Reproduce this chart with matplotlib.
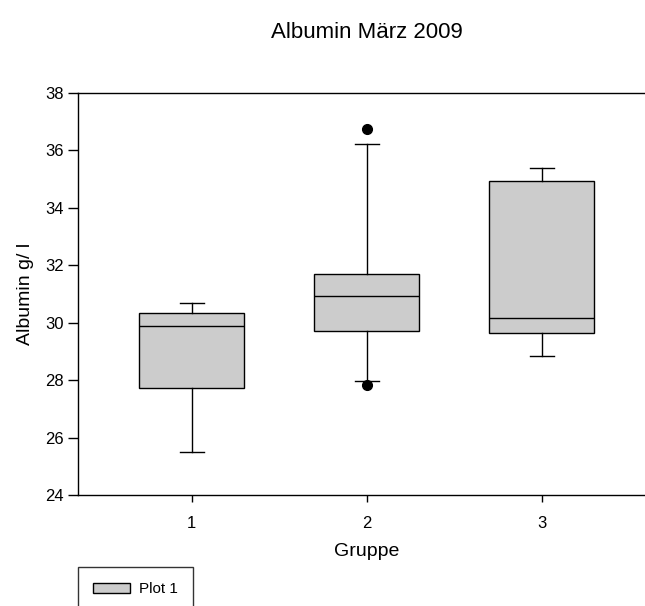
import matplotlib
matplotlib.use("Agg")
import matplotlib.pyplot as plt
from matplotlib.patches import Patch

plt.rcParams['font.family'] = ['Liberation Sans', 'DejaVu Sans']

# values
groups = [1, 2, 3]
tick_labels = ['1', '2', '3']
whisker_low = [25.5, 27.97, 28.83]
q1 = [27.73, 29.71, 29.64]
median = [29.88, 30.93, 30.16]
q3 = [30.34, 31.70, 34.95]
whisker_high = [30.7, 36.22, 35.39]
outliers = [[], [36.73, 27.83], []]

stats = []
for i in range(len(groups)):
    stats.append({'whislo': whisker_low[i], 'q1': q1[i], 'med': median[i],
                  'q3': q3[i], 'whishi': whisker_high[i], 'fliers': outliers[i]})

fig = plt.figure(figsize=(6.45, 6.06), dpi=100)
ax = fig.add_axes([78 / 645, 111 / 606, 1 - 78 / 645, 402 / 606])

ax.bxp(stats, positions=groups, widths=0.6, capwidths=0.14, patch_artist=True,
       boxprops=dict(facecolor='#cccccc', edgecolor='black', linewidth=1),
       medianprops=dict(color='black', linewidth=1),
       whiskerprops=dict(color='black', linewidth=1),
       capprops=dict(color='black', linewidth=1),
       flierprops=dict(marker='o', markerfacecolor='black', markeredgecolor='black',
                       markersize=7))

ax.set_xlim(0.35, 3.59)
ax.set_ylim(24, 38)
ax.set_yticks(range(24, 39, 2))
ax.set_xticks(groups)
ax.set_xticklabels(tick_labels)
ax.tick_params(axis='both', direction='out', labelsize=12, width=1)
ax.tick_params(axis='y', length=7, pad=3)
ax.tick_params(axis='x', length=5, pad=10)
ax.spines['right'].set_visible(False)
for s in ['left', 'top', 'bottom']:
    ax.spines[s].set_linewidth(1)

ax.set_ylabel('Albumin g/ l', fontsize=14, labelpad=8)
fig.text(367 / 645, 1 - 551 / 606, 'Gruppe', fontsize=14, ha='center', va='center')
fig.text(367 / 645, 1 - 32 / 606, 'Albumin März 2009', fontsize=16, ha='center', va='center')

# legend box runs off the bottom edge, as in the reference
handles = [Patch(facecolor='#cccccc', edgecolor='black', linewidth=1, label='Plot 1')]
leg = fig.legend(handles=handles, loc='upper left', bbox_to_anchor=(78 / 645, 1 - 567 / 606),
                 fontsize=11, frameon=True, fancybox=False, borderpad=1.0,
                 handlelength=2.4, handleheight=0.6, borderaxespad=0, handletextpad=0.6)
leg.get_frame().set_edgecolor('black')
leg.get_frame().set_linewidth(1)

fig.savefig('out.png', dpi=100)
